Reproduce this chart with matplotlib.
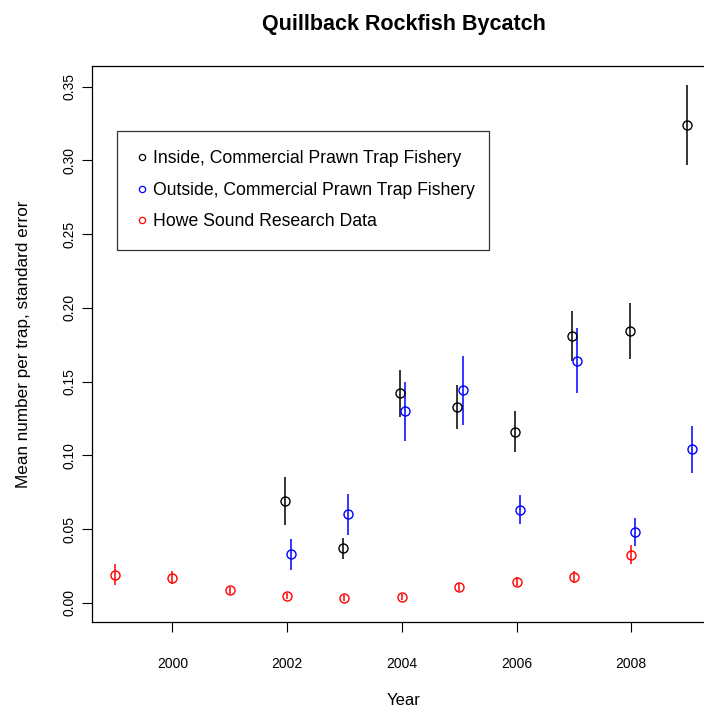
import matplotlib.pyplot as plt
import numpy as np
from matplotlib.lines import Line2D

plt.rcParams["font.family"] = ["Liberation Sans", "DejaVu Sans"]

# Inside, commercial prawn trap fishery
inside_years = [2002, 2003, 2004, 2005, 2006, 2007, 2008, 2009]
inside_mean = [0.069, 0.037, 0.142, 0.133, 0.116, 0.181, 0.184, 0.324]
inside_se = [0.016, 0.007, 0.016, 0.015, 0.014, 0.017, 0.019, 0.027]

# Outside, commercial prawn trap fishery
outside_years = [2002, 2003, 2004, 2005, 2006, 2007, 2008, 2009]
outside_mean = [0.033, 0.060, 0.130, 0.144, 0.063, 0.164, 0.048, 0.104]
outside_se = [0.0105, 0.014, 0.020, 0.0235, 0.0098, 0.022, 0.0098, 0.016]

# Howe Sound research data
howe_years = [1999, 2000, 2001, 2002, 2003, 2004, 2005, 2006, 2007, 2008]
howe_mean = [0.019, 0.017, 0.0085, 0.0045, 0.003, 0.0037, 0.0105, 0.0143, 0.0176, 0.0326]
howe_se = [0.007, 0.0045, 0.0024, 0.0022, 0.002, 0.002, 0.0027, 0.003, 0.004, 0.0063]

labels = [
    "Inside, Commercial Prawn Trap Fishery",
    "Outside, Commercial Prawn Trap Fishery",
    "Howe Sound Research Data",
]
colors = ["black", "blue", "red"]


def main() -> None:
    fig = plt.figure(figsize=(7.04, 7.11), dpi=100)
    ax = fig.add_axes([0.1307, 0.1252, 0.885, 0.782])

    series = [
        (np.array(inside_years) - 0.03, inside_mean, inside_se),
        (np.array(outside_years) + 0.06, outside_mean, outside_se),
        (np.array(howe_years), howe_mean, howe_se),
    ]
    for (x, y, se), color in zip(series, colors):
        ax.errorbar(
            x, y, yerr=se, fmt="o", color=color, mfc="none", mec=color,
            ms=6.5, mew=1.0, elinewidth=1.1, capsize=0,
        )

    ax.set_xlim(1998.6, 2009.46)
    ax.set_ylim(-0.013, 0.364)
    ax.set_xticks(np.arange(2000, 2009, 2))
    yt = np.arange(0, 0.351, 0.05)
    ax.set_yticks(yt)
    ax.set_yticklabels([f"{v:.2f}" for v in yt], rotation=90, va="center")
    ax.tick_params(direction="out", length=7, width=0.8, labelsize=10)
    ax.tick_params(axis="x", pad=18)
    ax.tick_params(axis="y", pad=4)

    for s in ax.spines.values():
        s.set_linewidth(0.9)

    ax.set_title("Quillback Rockfish Bycatch", fontsize=15.5, fontweight="bold", pad=26)
    ax.set_xlabel("Year", fontsize=12, labelpad=16)
    ax.set_ylabel("Mean number per trap, standard error", fontsize=12.3, labelpad=23)

    handles = [
        Line2D([], [], ls="none", marker="o", ms=4.5, mfc="none", mec=c, mew=0.9)
        for c in colors
    ]
    leg = ax.legend(
        handles, labels,
        loc="upper left", bbox_to_anchor=(0.040, 0.0, 0.597, 0.883),
        mode="expand", borderaxespad=0,
        fontsize=12.7, frameon=True, fancybox=False, edgecolor="black",
        handlelength=0.6, handletextpad=0.35, labelspacing=0.82,
        borderpad=1.1,
    )
    leg.get_frame().set_linewidth(0.9)

    fig.savefig("out.png", dpi=100)


if __name__ == "__main__":
    main()
